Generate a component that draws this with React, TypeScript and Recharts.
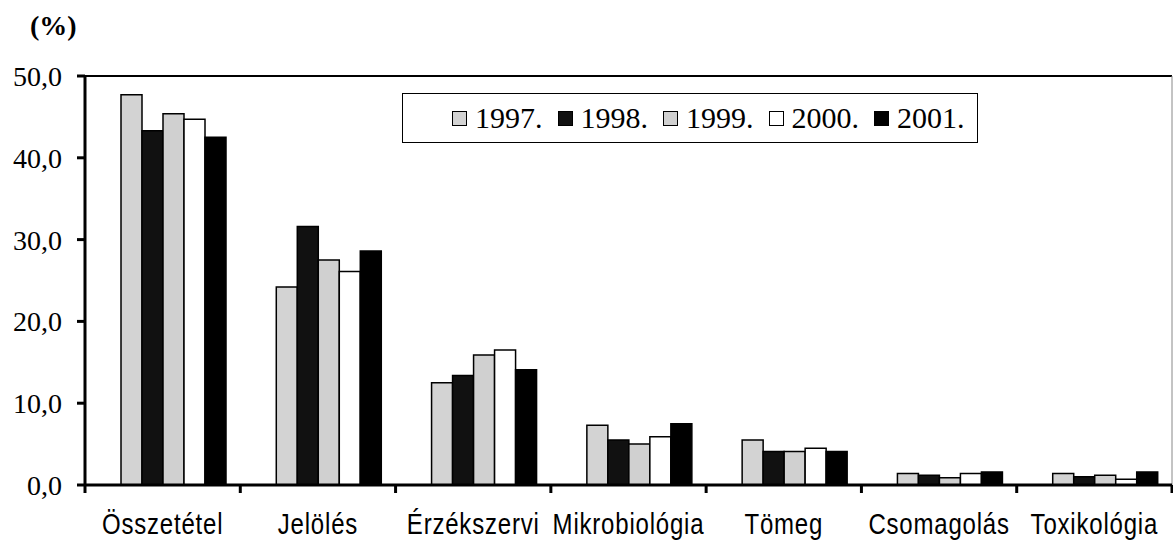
import React from 'react';
import { BarChart, Bar, XAxis, YAxis, CartesianGrid, ReferenceLine } from 'recharts';

const categories = ['Összetétel', 'Jelölés', 'Érzékszervi', 'Mikrobiológia', 'Tömeg', 'Csomagolás', 'Toxikológia'];
const v1997 = [47.7, 24.2, 12.5, 7.3, 5.5, 1.4, 1.4];
const v1998 = [43.3, 31.6, 13.4, 5.5, 4.1, 1.2, 1.0];
const v1999 = [45.4, 27.5, 15.9, 5.0, 4.1, 0.9, 1.2];
const v2000 = [44.7, 26.1, 16.5, 5.9, 4.5, 1.4, 0.7];
const v2001 = [42.5, 28.6, 14.1, 7.5, 4.1, 1.6, 1.6];
const seriesNames = ['1997.', '1998.', '1999.', '2000.', '2001.'];
const yTicks = [0, 10, 20, 30, 40, 50];

const seriesValues = [v1997, v1998, v1999, v2000, v2001];
const seriesKeys = ['s1997', 's1998', 's1999', 's2000', 's2001'];
const seriesFills = ['#d3d3d3', '#111111', '#d0d0d0', '#ffffff', '#000000'];

const data = categories.map((c, i) => {
  const row: any = { name: c };
  seriesKeys.forEach((k, j) => {
    row[k] = seriesValues[j][i];
  });
  return row;
});

const serif = '"Liberation Serif", "Times New Roman", serif';
const sans = '"Liberation Sans", Arial, sans-serif';

const CatTick = (props: any) => {
  const { x, y, payload, index, width } = props;
  const half = width / categories.length / 2;
  return (
    <g>
      <line x1={x - half} x2={x - half} y1={y - 8} y2={y} stroke="#000" strokeWidth={3} />
      {index === categories.length - 1 && (
        <line x1={x + half} x2={x + half} y1={y - 8} y2={y} stroke="#000" strokeWidth={3} />
      )}
      <text
        transform={`translate(${x},${y + 41}) scale(0.8,1)`}
        x={0}
        y={0}
        textAnchor="middle"
        fontFamily={sans}
        fontSize={30}
        letterSpacing={1}
        fill="#000"
      >
        {payload.value}
      </text>
    </g>
  );
};

const LegendBox = () => (
  <div
    style={{
      position: 'absolute',
      left: 402,
      top: 93,
      boxSizing: 'border-box',
      width: 576,
      height: 50,
      border: '1px solid #000',
      background: '#fff',
      display: 'flex',
      alignItems: 'center',
      paddingLeft: 49,
      fontFamily: serif,
      fontSize: 30,
      color: '#000',
      zIndex: 2,
    }}
  >
    {seriesNames.map((n, i) => (
      <div key={n} style={{ display: 'flex', alignItems: 'center', width: 105.5, flex: '0 0 auto' }}>
        <div
          style={{
            boxSizing: 'border-box',
            width: 15,
            height: 15,
            border: '1.5px solid #000',
            background: seriesFills[i],
            marginRight: 8,
          }}
        />
        <span style={{ lineHeight: '30px', whiteSpace: 'nowrap' }}>{n}</span>
      </div>
    ))}
  </div>
);

export default function App() {
  return (
    <div style={{ position: 'absolute', left: 0, top: 0, width: 1173, height: 542, background: '#fff' }}>
      <div
        style={{
          position: 'absolute',
          left: 30,
          top: 12,
          fontFamily: serif,
          fontWeight: 'bold',
          fontSize: 28,
          lineHeight: '28px',
          zIndex: 2,
        }}
      >
        (%)
      </div>
      <BarChart
        width={1173}
        height={542}
        data={data}
        margin={{ top: 76, right: 0, bottom: 0, left: 0 }}
        barCategoryGap={15}
        barGap={0}
      >
        <CartesianGrid horizontal={true} vertical={false} stroke="#222" strokeWidth={1} />
        <YAxis
          yAxisId="left"
          width={85}
          domain={[0, 50]}
          ticks={yTicks}
          interval={0}
          tickFormatter={(v: number) => v.toFixed(1).replace('.', ',')}
          tickSize={8}
          tickMargin={15}
          axisLine={{ stroke: '#000', strokeWidth: 3 }}
          tickLine={{ stroke: '#000', strokeWidth: 3 }}
          tick={{ fill: '#000', fontSize: 28, fontFamily: serif }}
        />
        <YAxis
          yAxisId="right"
          orientation="right"
          width={1}
          domain={[0, 50]}
          tick={false}
          tickLine={false}
          axisLine={{ stroke: '#888', strokeWidth: 1 }}
        />
        <XAxis
          dataKey="name"
          height={57}
          interval={0}
          tickSize={8}
          tickMargin={0}
          tickLine={false}
          axisLine={{ stroke: '#000', strokeWidth: 3 }}
          tick={<CatTick />}
        />
        <ReferenceLine yAxisId="left" y={50} stroke="#000" strokeWidth={2} />
        <Bar yAxisId="left" dataKey="pad" fill="none" isAnimationActive={false} legendType="none" />
        {seriesKeys.map((k, i) => (
          <Bar
            key={k}
            yAxisId="left"
            dataKey={k}
            name={seriesNames[i]}
            fill={seriesFills[i]}
            stroke="#000"
            strokeWidth={1.5}
            isAnimationActive={false}
          />
        ))}
      </BarChart>
      <LegendBox />
    </div>
  );
}
